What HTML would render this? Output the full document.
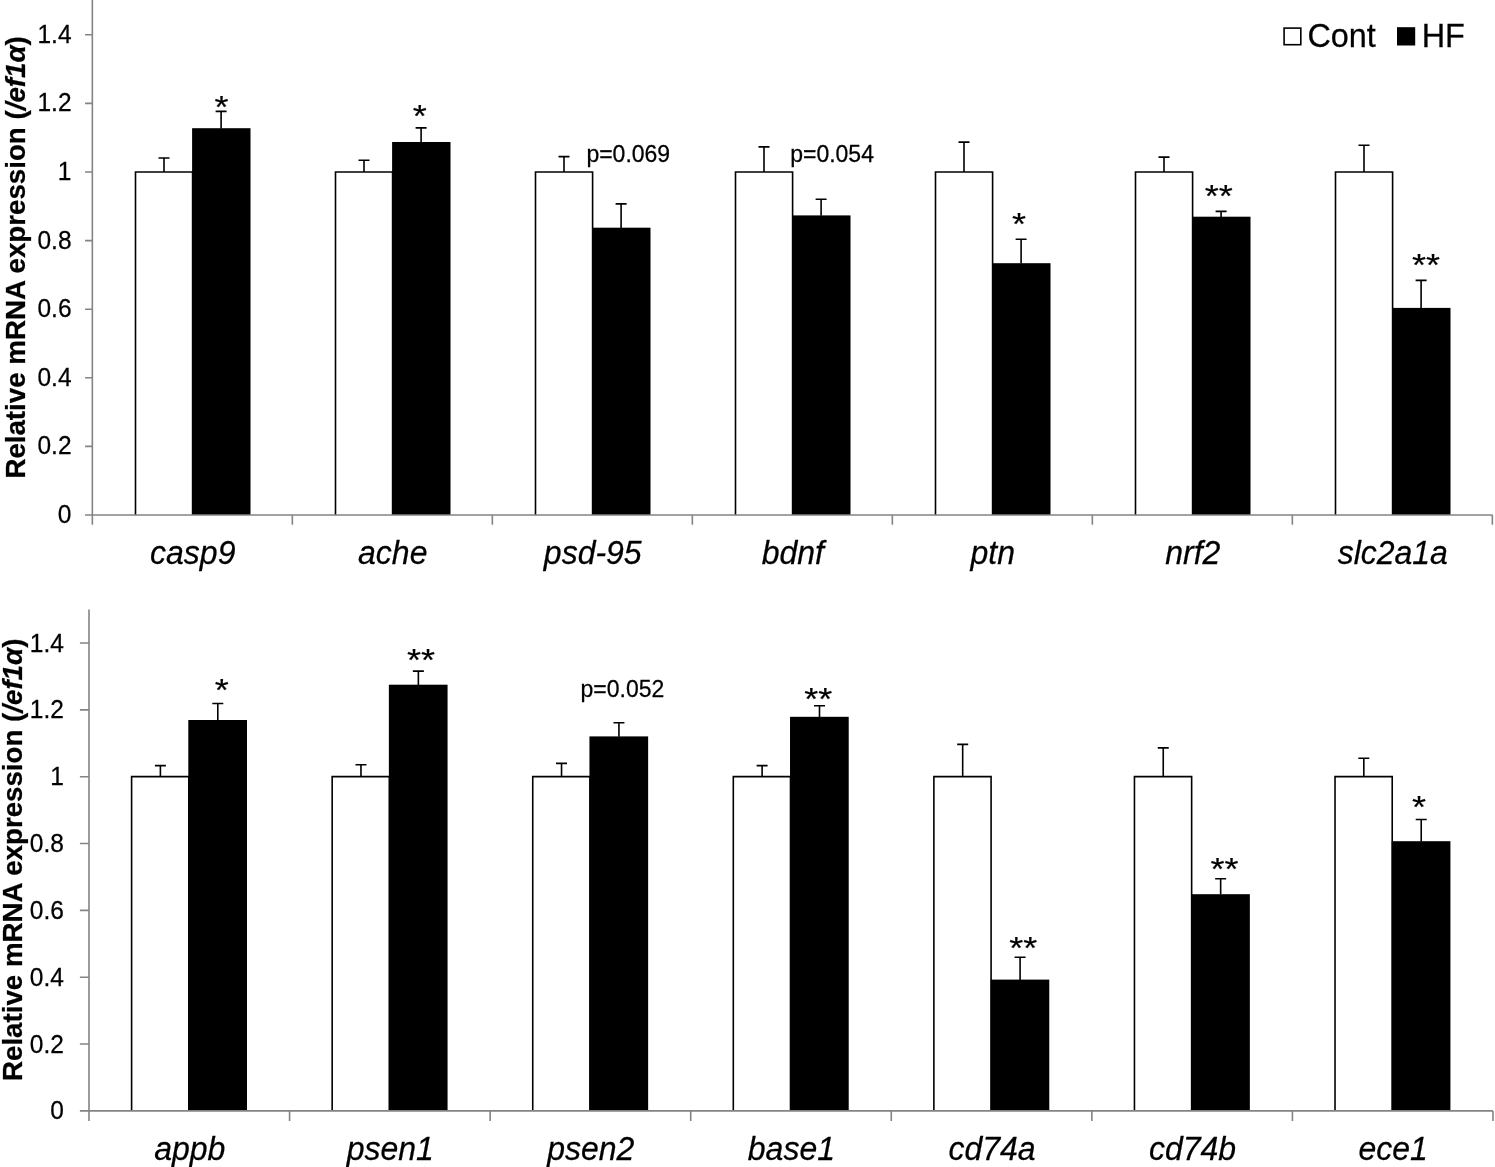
<!DOCTYPE html>
<html lang="en">
<head>
<meta charset="utf-8">
<title>Relative mRNA expression</title>
<style>
html,body{margin:0;padding:0;background:#fff;}
body{width:1495px;height:1167px;overflow:hidden;}
svg{display:block;}
svg text{font-family:"Liberation Sans", sans-serif;fill:#000;stroke:#000;stroke-width:0.25px;}
</style>
</head>
<body>
<svg width="1495" height="1167" viewBox="0 0 1495 1167">
<rect width="1495" height="1167" fill="#fff"/>
<path d="M135.5 515V172H192.6V515" fill="#fff" stroke="#000" stroke-width="1.6"/>
<rect x="192.1" y="128.2" width="58.4" height="386.8" fill="#000"/>
<path d="M164 172V158M158.5 158H169.5" stroke="#000" stroke-width="1.6" fill="none"/>
<path d="M221.1 128.5V111.4M215.6 111.4H226.6" stroke="#000" stroke-width="1.6" fill="none"/>
<path d="M335.5 515V172H392.6V515" fill="#fff" stroke="#000" stroke-width="1.6"/>
<rect x="392.1" y="142" width="58.4" height="373" fill="#000"/>
<path d="M364 172V160.3M358.5 160.3H369.5" stroke="#000" stroke-width="1.6" fill="none"/>
<path d="M421.1 142.3V127.9M415.6 127.9H426.6" stroke="#000" stroke-width="1.6" fill="none"/>
<path d="M535.5 515V172H592.6V515" fill="#fff" stroke="#000" stroke-width="1.6"/>
<rect x="592.1" y="227.7" width="58.4" height="287.3" fill="#000"/>
<path d="M564 172V156.6M558.5 156.6H569.5" stroke="#000" stroke-width="1.6" fill="none"/>
<path d="M621.1 228V203.9M615.6 203.9H626.6" stroke="#000" stroke-width="1.6" fill="none"/>
<path d="M735.5 515V172H792.6V515" fill="#fff" stroke="#000" stroke-width="1.6"/>
<rect x="792.1" y="215.4" width="58.4" height="299.6" fill="#000"/>
<path d="M764 172V146.9M758.5 146.9H769.5" stroke="#000" stroke-width="1.6" fill="none"/>
<path d="M821.1 215.7V199.3M815.6 199.3H826.6" stroke="#000" stroke-width="1.6" fill="none"/>
<path d="M935.5 515V172H992.6V515" fill="#fff" stroke="#000" stroke-width="1.6"/>
<rect x="992.1" y="263.2" width="58.4" height="251.8" fill="#000"/>
<path d="M964 172V142.1M958.5 142.1H969.5" stroke="#000" stroke-width="1.6" fill="none"/>
<path d="M1021.1 263.5V239.2M1015.6 239.2H1026.6" stroke="#000" stroke-width="1.6" fill="none"/>
<path d="M1135.5 515V172H1192.6V515" fill="#fff" stroke="#000" stroke-width="1.6"/>
<rect x="1192.1" y="216.7" width="58.4" height="298.3" fill="#000"/>
<path d="M1164 172V157.1M1158.5 157.1H1169.5" stroke="#000" stroke-width="1.6" fill="none"/>
<path d="M1221.1 217V211.4M1215.6 211.4H1226.6" stroke="#000" stroke-width="1.6" fill="none"/>
<path d="M1335.5 515V172H1392.6V515" fill="#fff" stroke="#000" stroke-width="1.6"/>
<rect x="1392.1" y="307.9" width="58.4" height="207.1" fill="#000"/>
<path d="M1364 172V145.3M1358.5 145.3H1369.5" stroke="#000" stroke-width="1.6" fill="none"/>
<path d="M1421.1 308.2V280.4M1415.6 280.4H1426.6" stroke="#000" stroke-width="1.6" fill="none"/>
<path d="M92.35 0V524.7M85.05 515H1492.5M85.05 446.4H92.35M85.05 377.8H92.35M85.05 309.2H92.35M85.05 240.6H92.35M85.05 172H92.35M85.05 103.4H92.35M85.05 34.8H92.35M292.35 515V524.7M492.35 515V524.7M692.35 515V524.7M892.35 515V524.7M1092.35 515V524.7M1292.35 515V524.7M1492.35 515V524.7" stroke="#848484" stroke-width="1.6" fill="none"/>
<text transform="translate(71.5 522.9) scale(1.0 1.04)" text-anchor="end" font-size="24.5">0</text>
<text transform="translate(71.5 454.3) scale(1.0 1.04)" text-anchor="end" font-size="24.5">0.2</text>
<text transform="translate(71.5 385.7) scale(1.0 1.04)" text-anchor="end" font-size="24.5">0.4</text>
<text transform="translate(71.5 317.1) scale(1.0 1.04)" text-anchor="end" font-size="24.5">0.6</text>
<text transform="translate(71.5 248.5) scale(1.0 1.04)" text-anchor="end" font-size="24.5">0.8</text>
<text transform="translate(71.5 179.9) scale(1.0 1.04)" text-anchor="end" font-size="24.5">1</text>
<text transform="translate(71.5 111.3) scale(1.0 1.04)" text-anchor="end" font-size="24.5">1.2</text>
<text transform="translate(71.5 42.7) scale(1.0 1.04)" text-anchor="end" font-size="24.5">1.4</text>
<text transform="translate(192.75 564.2) scale(1.0 1.04)" text-anchor="middle" font-size="32" font-style="italic">casp9</text>
<text transform="translate(392.75 564.2) scale(1.0 1.04)" text-anchor="middle" font-size="32" font-style="italic">ache</text>
<text transform="translate(592.75 564.2) scale(1.0 1.04)" text-anchor="middle" font-size="32" font-style="italic">psd-95</text>
<text transform="translate(792.75 564.2) scale(1.0 1.04)" text-anchor="middle" font-size="32" font-style="italic">bdnf</text>
<text transform="translate(992.75 564.2) scale(1.0 1.04)" text-anchor="middle" font-size="32" font-style="italic">ptn</text>
<text transform="translate(1192.75 564.2) scale(1.0 1.04)" text-anchor="middle" font-size="32" font-style="italic">nrf2</text>
<text transform="translate(1392.75 564.2) scale(1.0 1.04)" text-anchor="middle" font-size="32" font-style="italic">slc2a1a</text>
<text transform="translate(25.1 257.4) rotate(-90) scale(1.0 1.03)" text-anchor="middle" font-size="27.7" font-weight="bold">Relative mRNA expression (<tspan font-style="italic">/ef1α</tspan>)</text>
<path d="M131.6 1110.9V776.6H188.8V1110.9" fill="#fff" stroke="#000" stroke-width="1.6"/>
<rect x="188.3" y="720" width="58.7" height="390.9" fill="#000"/>
<path d="M160.4 776.6V765.6M154.9 765.6H165.9" stroke="#000" stroke-width="1.6" fill="none"/>
<path d="M217.8 720.3V703.5M212.3 703.5H223.3" stroke="#000" stroke-width="1.6" fill="none"/>
<path d="M332.17 1110.9V776.6H389.37V1110.9" fill="#fff" stroke="#000" stroke-width="1.6"/>
<rect x="388.87" y="684.7" width="58.7" height="426.2" fill="#000"/>
<path d="M360.97 776.6V764.8M355.47 764.8H366.47" stroke="#000" stroke-width="1.6" fill="none"/>
<path d="M418.37 685V671.1M412.87 671.1H423.87" stroke="#000" stroke-width="1.6" fill="none"/>
<path d="M532.74 1110.9V776.6H589.94V1110.9" fill="#fff" stroke="#000" stroke-width="1.6"/>
<rect x="589.44" y="736.4" width="58.7" height="374.5" fill="#000"/>
<path d="M561.54 776.6V763.4M556.04 763.4H567.04" stroke="#000" stroke-width="1.6" fill="none"/>
<path d="M618.94 736.7V722.8M613.44 722.8H624.44" stroke="#000" stroke-width="1.6" fill="none"/>
<path d="M733.31 1110.9V776.6H790.51V1110.9" fill="#fff" stroke="#000" stroke-width="1.6"/>
<rect x="790.01" y="716.8" width="58.7" height="394.1" fill="#000"/>
<path d="M762.11 776.6V765.6M756.61 765.6H767.61" stroke="#000" stroke-width="1.6" fill="none"/>
<path d="M819.51 717.1V705.7M814.01 705.7H825.01" stroke="#000" stroke-width="1.6" fill="none"/>
<path d="M933.88 1110.9V776.6H991.08V1110.9" fill="#fff" stroke="#000" stroke-width="1.6"/>
<rect x="990.58" y="979.6" width="58.7" height="131.3" fill="#000"/>
<path d="M962.68 776.6V744.4M957.18 744.4H968.18" stroke="#000" stroke-width="1.6" fill="none"/>
<path d="M1020.08 979.9V957.2M1014.58 957.2H1025.58" stroke="#000" stroke-width="1.6" fill="none"/>
<path d="M1134.45 1110.9V776.6H1191.65V1110.9" fill="#fff" stroke="#000" stroke-width="1.6"/>
<rect x="1191.15" y="894.2" width="58.7" height="216.7" fill="#000"/>
<path d="M1163.25 776.6V747.9M1157.75 747.9H1168.75" stroke="#000" stroke-width="1.6" fill="none"/>
<path d="M1220.65 894.5V878.7M1215.15 878.7H1226.15" stroke="#000" stroke-width="1.6" fill="none"/>
<path d="M1335.02 1110.9V776.6H1392.22V1110.9" fill="#fff" stroke="#000" stroke-width="1.6"/>
<rect x="1391.72" y="841.2" width="58.7" height="269.7" fill="#000"/>
<path d="M1363.82 776.6V758.3M1358.32 758.3H1369.32" stroke="#000" stroke-width="1.6" fill="none"/>
<path d="M1421.22 841.5V819.5M1415.72 819.5H1426.72" stroke="#000" stroke-width="1.6" fill="none"/>
<path d="M89 609.6V1120.9M79.9 1110.9H1493M79.9 1044.06H89M79.9 977.22H89M79.9 910.38H89M79.9 843.54H89M79.9 776.7H89M79.9 709.86H89M79.9 643.02H89M289.57 1110.9V1120.9M490.14 1110.9V1120.9M690.71 1110.9V1120.9M891.28 1110.9V1120.9M1091.85 1110.9V1120.9M1292.42 1110.9V1120.9M1492.99 1110.9V1120.9" stroke="#848484" stroke-width="1.6" fill="none"/>
<text transform="translate(63.9 1119.4) scale(1.0 1.04)" text-anchor="end" font-size="24.5">0</text>
<text transform="translate(63.9 1052.56) scale(1.0 1.04)" text-anchor="end" font-size="24.5">0.2</text>
<text transform="translate(63.9 985.72) scale(1.0 1.04)" text-anchor="end" font-size="24.5">0.4</text>
<text transform="translate(63.9 918.88) scale(1.0 1.04)" text-anchor="end" font-size="24.5">0.6</text>
<text transform="translate(63.9 852.04) scale(1.0 1.04)" text-anchor="end" font-size="24.5">0.8</text>
<text transform="translate(63.9 785.2) scale(1.0 1.04)" text-anchor="end" font-size="24.5">1</text>
<text transform="translate(63.9 718.36) scale(1.0 1.04)" text-anchor="end" font-size="24.5">1.2</text>
<text transform="translate(63.9 651.52) scale(1.0 1.04)" text-anchor="end" font-size="24.5">1.4</text>
<text transform="translate(189.69 1160.1) scale(1.0 1.04)" text-anchor="middle" font-size="32" font-style="italic">appb</text>
<text transform="translate(390.25 1160.1) scale(1.0 1.04)" text-anchor="middle" font-size="32" font-style="italic">psen1</text>
<text transform="translate(590.82 1160.1) scale(1.0 1.04)" text-anchor="middle" font-size="32" font-style="italic">psen2</text>
<text transform="translate(791.39 1160.1) scale(1.0 1.04)" text-anchor="middle" font-size="32" font-style="italic">base1</text>
<text transform="translate(991.96 1160.1) scale(1.0 1.04)" text-anchor="middle" font-size="32" font-style="italic">cd74a</text>
<text transform="translate(1192.54 1160.1) scale(1.0 1.04)" text-anchor="middle" font-size="32" font-style="italic">cd74b</text>
<text transform="translate(1393.11 1160.1) scale(1.0 1.04)" text-anchor="middle" font-size="32" font-style="italic">ece1</text>
<text transform="translate(21.6 859.8) rotate(-90) scale(1.0 1.03)" text-anchor="middle" font-size="27.7" font-weight="bold">Relative mRNA expression (<tspan font-style="italic">/ef1α</tspan>)</text>
<rect x="1284.1" y="28.1" width="16.7" height="16.6" fill="#fff" stroke="#000" stroke-width="1.6"/>
<text transform="translate(1307.4 47.1) scale(1.0 1.05)" font-size="32.4">Cont</text>
<rect x="1397" y="27.2" width="18.2" height="18.3" fill="#000"/>
<text transform="translate(1421.7 47.1) scale(1.0 1.05)" font-size="32.4">HF</text>
<text transform="translate(221.6 118.14) scale(1.0 0.85)" text-anchor="middle" font-size="36" stroke="#000" stroke-width="0.5">*</text>
<text transform="translate(419.8 127.04) scale(1.0 0.85)" text-anchor="middle" font-size="36" stroke="#000" stroke-width="0.5">*</text>
<text transform="translate(1019 235.04) scale(1.0 0.85)" text-anchor="middle" font-size="36" stroke="#000" stroke-width="0.5">*</text>
<text transform="translate(1218.7 207.24) scale(1.0 0.85)" text-anchor="middle" font-size="36" stroke="#000" stroke-width="0.5">**</text>
<text transform="translate(1426 275.94) scale(1.0 0.85)" text-anchor="middle" font-size="36" stroke="#000" stroke-width="0.5">**</text>
<text transform="translate(221.7 701.44) scale(1.0 0.85)" text-anchor="middle" font-size="36" stroke="#000" stroke-width="0.5">*</text>
<text transform="translate(421 670.64) scale(1.0 0.85)" text-anchor="middle" font-size="36" stroke="#000" stroke-width="0.5">**</text>
<text transform="translate(818.2 710.24) scale(1.0 0.85)" text-anchor="middle" font-size="36" stroke="#000" stroke-width="0.5">**</text>
<text transform="translate(1023.2 958.84) scale(1.0 0.85)" text-anchor="middle" font-size="36" stroke="#000" stroke-width="0.5">**</text>
<text transform="translate(1224.5 880.44) scale(1.0 0.85)" text-anchor="middle" font-size="36" stroke="#000" stroke-width="0.5">**</text>
<text transform="translate(1419.1 818.34) scale(1.0 0.85)" text-anchor="middle" font-size="36" stroke="#000" stroke-width="0.5">*</text>
<text transform="translate(586.4 161.5) scale(1.0 1.06)" font-size="23">p=0.069</text>
<text transform="translate(790.2 161.5) scale(1.0 1.06)" font-size="23">p=0.054</text>
<text transform="translate(580.5 696.8) scale(1.0 1.06)" font-size="23">p=0.052</text>
</svg>
</body>
</html>
